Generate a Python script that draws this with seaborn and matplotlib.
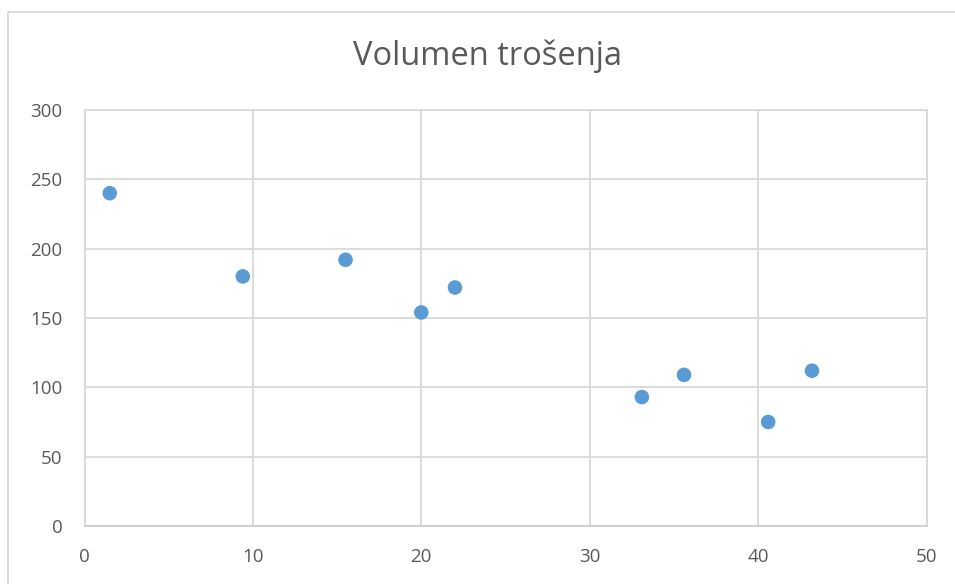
import matplotlib
matplotlib.use("Agg")
import matplotlib.pyplot as plt
from matplotlib.patches import Rectangle
import seaborn as sns
import pandas as pd

# Wear volume measurements
x_values = [1.5, 9.4, 15.5, 20.0, 22.0, 33.1, 35.6, 40.6, 43.2]
y_values = [240, 180, 192, 154, 172, 93, 109, 75, 112]
x_ticks = [0, 10, 20, 30, 40, 50]
y_ticks = [0, 50, 100, 150, 200, 250, 300]
title = "Volumen trošenja"

sns.set_theme(style="white")
plt.rcParams["font.family"] = ["Open Sans", "DejaVu Sans"]

text_color = "#595959"
grid_color = "#d9d9d9"
marker_color = "#5b9bd5"

df = pd.DataFrame({"x": x_values, "y": y_values})

W, H = 955, 584
fig = plt.figure(figsize=(W / 100, H / 100), dpi=100)
ax = fig.add_axes([84.5 / W, (H - 526) / H, (926.5 - 84.5) / W, (526 - 110) / H])

sns.scatterplot(data=df, x="x", y="y", ax=ax, color=marker_color, s=110,
                edgecolor="none", zorder=3)

ax.set_xlim(0, 50)
ax.set_ylim(0, 300)
ax.set_xticks(x_ticks)
ax.set_yticks(y_ticks)
ax.set_xlabel("")
ax.set_ylabel("")
ax.grid(True, color=grid_color, linewidth=1.3)
ax.set_axisbelow(True)
for side, spine in ax.spines.items():
    spine.set_visible(True)
    spine.set_color(grid_color)
    spine.set_linewidth(1.3)
ax.spines["bottom"].set_color("#cfcfcf")

ax.tick_params(axis="both", length=0, labelsize=13.5, labelcolor=text_color)
ax.tick_params(axis="y", pad=16)
ax.tick_params(axis="x", pad=16)

fig.text(487 / W, 1 - 56 / H, title, ha="center", va="center",
         fontsize=23.5, color=text_color)

# chart area frame
fig.patches.append(Rectangle((8 / W, -0.1), 1.2, 1 - 12 / H + 0.1,
                             transform=fig.transFigure, fill=False,
                             edgecolor="#d9d9d9", linewidth=1.3))

fig.savefig("out.png", dpi=100)
